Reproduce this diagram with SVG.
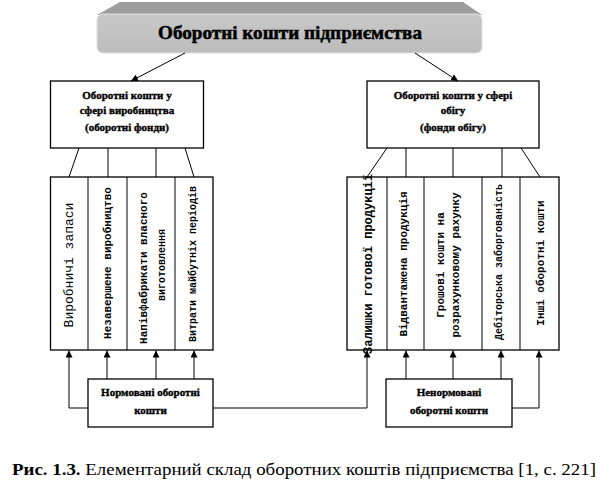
<svg xmlns="http://www.w3.org/2000/svg" width="609" height="496" viewBox="0 0 609 496">
<style>
.box{fill:#fff;stroke:#000;stroke-width:1.3}
.ln{fill:none;stroke:#000;stroke-width:1}
.hd{font-weight:bold;fill:#000;stroke:#000;stroke-width:0.5}
.bx{font-weight:bold;font-size:11px;fill:#000;stroke:#000;stroke-width:0.35;text-anchor:middle}
.vt{fill:#000;text-anchor:middle}
.vb{font-weight:bold}
.cap{font-size:17px;fill:#000}
</style>
<defs>
<marker id="ah" viewBox="0 0 10 10" refX="10" refY="5" markerWidth="7" markerHeight="7" markerUnits="userSpaceOnUse" orient="auto">
<path d="M0,0 L10,5 L0,10 z" fill="#000"/>
</marker>
<linearGradient id="gb" x1="0" y1="0" x2="0" y2="1">
<stop offset="0" stop-color="#c8c8c8"/>
<stop offset="1" stop-color="#bdbdbd"/>
</linearGradient>
</defs>

<g id="top">
<path d="M120,2 L463,2 L482,15 L97,15 z" fill="#9c9c9c"/>
<rect x="97" y="14" width="385" height="39" rx="6" fill="url(#gb)" stroke="#e0e0e0" stroke-width="1"/>
<text class="hd" font-family="Liberation Serif, serif" x="290" y="39" font-size="18" text-anchor="middle" textLength="264" lengthAdjust="spacingAndGlyphs">Оборотні кошти підприємства</text>
</g>

<g id="prod" font-family="Liberation Serif, serif">
<rect class="box" x="50.5" y="81" width="153" height="67"/>
<text class="bx" x="127" y="99">Оборотні  кошти  у</text>
<text class="bx" x="127" y="114">сфері виробництва</text>
<text class="bx" x="127" y="131">(оборотні  фонди)</text>
</g>

<g id="circ" font-family="Liberation Serif, serif">
<rect class="box" x="367" y="81" width="172" height="67"/>
<text class="bx" x="453" y="99">Оборотні  кошти  у сфері</text>
<text class="bx" x="453" y="114">обігу</text>
<text class="bx" x="453" y="131">(фонди  обігу)</text>
</g>

<g id="left-cols" font-family="Liberation Mono, monospace">
<rect class="box" x="50.5" y="177" width="162.5" height="173"/>
<line class="ln" x1="88" y1="177" x2="88" y2="350"/>
<line class="ln" x1="127" y1="177" x2="127" y2="350"/>
<line class="ln" x1="175" y1="177" x2="175" y2="350"/>
<text class="vt" font-size="13" transform="translate(72.5,265) rotate(-90)">Виробничі запаси</text>
<text class="vt vb" font-size="11" transform="translate(110.5,263) rotate(-90)">Незавершене виробництво</text>
<text class="vt vb" font-size="11" transform="translate(146.5,268) rotate(-90)">Напівфабрикати власного</text>
<text class="vt vb" font-size="10" transform="translate(165,265) rotate(-90)">виготовлення</text>
<text class="vt vb" font-size="10" transform="translate(195.5,264) rotate(-90)">Витрати майбутніх періодів</text>
</g>

<g id="right-cols" font-family="Liberation Mono, monospace">
<rect class="box" x="347" y="177" width="212" height="173"/>
<line class="ln" x1="387" y1="177" x2="387" y2="350"/>
<line class="ln" x1="424" y1="177" x2="424" y2="350"/>
<line class="ln" x1="482" y1="177" x2="482" y2="350"/>
<line class="ln" x1="520" y1="177" x2="520" y2="350"/>
<text class="vt vb" font-size="12" transform="translate(372,264) rotate(-90)">Залишки готової продукції</text>
<text class="vt vb" font-size="11" transform="translate(406.5,264) rotate(-90)">Відвантажена продукція</text>
<text class="vt vb" font-size="11" transform="translate(443.5,265) rotate(-90)">Грошові кошти на</text>
<text class="vt vb" font-size="11" transform="translate(458.5,265) rotate(-90)">розрахунковому рахунку</text>
<text class="vt vb" font-size="10" transform="translate(501.5,262) rotate(-90)">Дебіторська заборгованість</text>
<text class="vt vb" font-size="11" transform="translate(543.5,263) rotate(-90)">Інші оборотні кошти</text>
</g>

<g id="norm" font-family="Liberation Serif, serif">
<rect class="box" x="88" y="379" width="125" height="48"/>
<text class="bx" x="150.5" y="396">Нормовані  оборотні</text>
<text class="bx" x="150.5" y="414">кошти</text>
</g>

<g id="nonnorm" font-family="Liberation Serif, serif">
<rect class="box" x="386" y="379" width="126" height="48"/>
<text class="bx" x="449" y="396">Ненормовані</text>
<text class="bx" x="449" y="414">оборотні  кошти</text>
</g>

<g id="connectors">
<line class="ln" x1="185" y1="53" x2="131" y2="81" marker-end="url(#ah)"/>
<line class="ln" x1="415" y1="53" x2="458" y2="81" marker-end="url(#ah)"/>
<line class="ln" x1="79" y1="148" x2="69" y2="177"/>
<line class="ln" x1="108" y1="148" x2="108" y2="177"/>
<line class="ln" x1="156" y1="148" x2="156" y2="177"/>
<line class="ln" x1="185" y1="148" x2="194" y2="177"/>
<line class="ln" x1="387" y1="148" x2="367" y2="177"/>
<line class="ln" x1="406" y1="148" x2="406" y2="177"/>
<line class="ln" x1="453" y1="148" x2="453" y2="177"/>
<line class="ln" x1="502" y1="148" x2="502" y2="177"/>
<line class="ln" x1="521" y1="148" x2="540" y2="177"/>
<polyline class="ln" points="88,408 69,408 69,350.5" marker-end="url(#ah)"/>
<line class="ln" x1="107" y1="379" x2="107" y2="350.5" marker-end="url(#ah)"/>
<line class="ln" x1="156" y1="379" x2="156" y2="350.5" marker-end="url(#ah)"/>
<line class="ln" x1="194" y1="379" x2="194" y2="350.5" marker-end="url(#ah)"/>
<polyline class="ln" points="213,408 367,408 367,350.5" marker-end="url(#ah)"/>
<line class="ln" x1="406" y1="379" x2="406" y2="350.5" marker-end="url(#ah)"/>
<line class="ln" x1="453" y1="379" x2="453" y2="350.5" marker-end="url(#ah)"/>
<line class="ln" x1="501" y1="379" x2="501" y2="350.5" marker-end="url(#ah)"/>
<polyline class="ln" points="512,408 539,408 539,350.5" marker-end="url(#ah)"/>
</g>

<text class="cap" font-family="Liberation Serif, serif" x="12" y="475" textLength="584" lengthAdjust="spacingAndGlyphs"><tspan font-weight="bold">Рис. 1.3.</tspan> Елементарний склад оборотних коштів підприємства [1, с. 221]</text>
</svg>
